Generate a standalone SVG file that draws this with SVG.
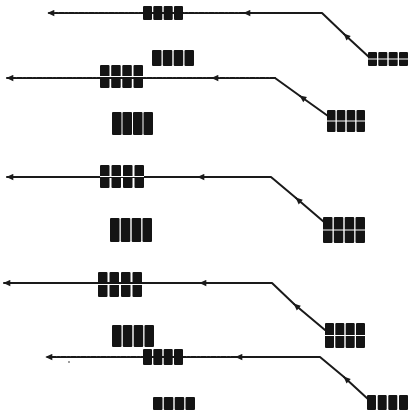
<svg xmlns="http://www.w3.org/2000/svg" width="408" height="413" viewBox="0 0 408 413">
<style>
.c{fill:#141414}
.d{stroke:#fff;stroke-width:1}
.ln{fill:none;stroke:#1a1a1a;stroke-width:2;stroke-linecap:round;stroke-linejoin:round}
.ds{stroke-dasharray:5 1.5 2 1.5}
</style>
<defs>
<marker id="ah" viewBox="0 0 10 10" refX="9" refY="5" markerWidth="8" markerHeight="7" orient="auto" markerUnits="userSpaceOnUse">
<path d="M0,0.5 L10,5 L0,9.5 Z" fill="#1a1a1a"/>
</marker>
</defs>
<rect width="408" height="413" fill="#fff"/>
<g id="connectors">
<!-- chain 1 -->
<path class="ln" d="M370,58 L344,34" marker-end="url(#ah)"/>
<path class="ln" d="M344,34 L322,13 L244,13" marker-end="url(#ah)"/>
<path class="ln ds" d="M244,13 L48,13" marker-end="url(#ah)"/>
<!-- chain 2 -->
<path class="ln" d="M328,116 L300,96" marker-end="url(#ah)"/>
<path class="ln" d="M300,96 L275,78" />
<path class="ln ds" d="M275,78 L212,78" marker-end="url(#ah)"/>
<path class="ln ds" d="M212,78 L7,78" marker-end="url(#ah)"/>
<!-- chain 3 -->
<path class="ln" d="M324,222 L296,198" marker-end="url(#ah)"/>
<path class="ln" d="M296,198 L271,177 L198,177" marker-end="url(#ah)"/>
<path class="ln" d="M198,177 L7,177" marker-end="url(#ah)"/>
<!-- chain 4 -->
<path class="ln" d="M325,330 L294,304" marker-end="url(#ah)"/>
<path class="ln" d="M294,304 L272,283 L200,283" marker-end="url(#ah)"/>
<path class="ln" d="M200,283 L4,283" marker-end="url(#ah)"/>
<!-- chain 5 -->
<path class="ln" d="M369,400 L344,377" marker-end="url(#ah)"/>
<path class="ln" d="M344,377 L320,357 L236,357" marker-end="url(#ah)"/>
<path class="ln ds" d="M236,357 L46,357" marker-end="url(#ah)"/>
<circle cx="69" cy="362" r="0.8" fill="#222"/>
</g>
<g id="label-1">
<rect class="c" x="143" y="6" width="9" height="14" rx="1"/><rect class="c" x="153.3" y="6" width="9" height="14" rx="1"/><rect class="c" x="163.7" y="6" width="9" height="14" rx="1"/><rect class="c" x="174" y="6" width="9" height="14" rx="1"/>
</g>
<g id="source-1">
<rect class="c" x="368" y="52" width="9" height="14" rx="1"/><rect class="c" x="378.3" y="52" width="9" height="14" rx="1"/><rect class="c" x="388.7" y="52" width="9" height="14" rx="1"/><rect class="c" x="399" y="52" width="9" height="14" rx="1"/>
<line class="d" x1="368" y1="59" x2="408" y2="59"/>
</g>
<g id="block-1">
<rect class="c" x="152" y="50" width="9.5" height="16" rx="1"/><rect class="c" x="162.8" y="50" width="9.5" height="16" rx="1"/><rect class="c" x="173.7" y="50" width="9.5" height="16" rx="1"/><rect class="c" x="184.5" y="50" width="9.5" height="16" rx="1"/>
</g>
<g id="label-2">
<rect class="c" x="100" y="65" width="9.5" height="23" rx="1"/><rect class="c" x="111.2" y="65" width="9.5" height="23" rx="1"/><rect class="c" x="122.3" y="65" width="9.5" height="23" rx="1"/><rect class="c" x="133.5" y="65" width="9.5" height="23" rx="1"/>
<line class="d" x1="100" y1="76.5" x2="143" y2="76.5"/>
</g>
<g id="source-2">
<rect class="c" x="327" y="110" width="8.5" height="22" rx="1"/><rect class="c" x="336.8" y="110" width="8.5" height="22" rx="1"/><rect class="c" x="346.7" y="110" width="8.5" height="22" rx="1"/><rect class="c" x="356.5" y="110" width="8.5" height="22" rx="1"/>
<line class="d" x1="327" y1="121" x2="365" y2="121"/>
</g>
<g id="block-2">
<rect class="c" x="112" y="112" width="9.5" height="23" rx="1"/><rect class="c" x="122.5" y="112" width="9.5" height="23" rx="1"/><rect class="c" x="133" y="112" width="9.5" height="23" rx="1"/><rect class="c" x="143.5" y="112" width="9.5" height="23" rx="1"/>
</g>
<g id="label-3">
<rect class="c" x="100" y="165" width="9.5" height="23" rx="1"/><rect class="c" x="111.5" y="165" width="9.5" height="23" rx="1"/><rect class="c" x="123" y="165" width="9.5" height="23" rx="1"/><rect class="c" x="134.5" y="165" width="9.5" height="23" rx="1"/>
<line class="d" x1="100" y1="176.5" x2="144" y2="176.5"/>
</g>
<g id="source-3">
<rect class="c" x="323" y="217" width="9.5" height="26" rx="1"/><rect class="c" x="333.8" y="217" width="9.5" height="26" rx="1"/><rect class="c" x="344.7" y="217" width="9.5" height="26" rx="1"/><rect class="c" x="355.5" y="217" width="9.5" height="26" rx="1"/>
<line class="d" x1="323" y1="230" x2="365" y2="230"/>
</g>
<g id="block-3">
<rect class="c" x="110" y="218" width="9.5" height="24" rx="1"/><rect class="c" x="120.8" y="218" width="9.5" height="24" rx="1"/><rect class="c" x="131.7" y="218" width="9.5" height="24" rx="1"/><rect class="c" x="142.5" y="218" width="9.5" height="24" rx="1"/>
</g>
<g id="label-4">
<rect class="c" x="98" y="272" width="9.5" height="25" rx="1"/><rect class="c" x="109.5" y="272" width="9.5" height="25" rx="1"/><rect class="c" x="121" y="272" width="9.5" height="25" rx="1"/><rect class="c" x="132.5" y="272" width="9.5" height="25" rx="1"/>
<line class="d" x1="98" y1="284.5" x2="142" y2="284.5"/>
</g>
<g id="source-4">
<rect class="c" x="325" y="323" width="9" height="25" rx="1"/><rect class="c" x="335.3" y="323" width="9" height="25" rx="1"/><rect class="c" x="345.7" y="323" width="9" height="25" rx="1"/><rect class="c" x="356" y="323" width="9" height="25" rx="1"/>
<line class="d" x1="325" y1="335.5" x2="365" y2="335.5"/>
</g>
<g id="block-4">
<rect class="c" x="112" y="325" width="9.5" height="22" rx="1"/><rect class="c" x="122.8" y="325" width="9.5" height="22" rx="1"/><rect class="c" x="133.7" y="325" width="9.5" height="22" rx="1"/><rect class="c" x="144.5" y="325" width="9.5" height="22" rx="1"/>
</g>
<g id="label-5">
<rect class="c" x="143" y="349" width="9" height="16" rx="1"/><rect class="c" x="153.3" y="349" width="9" height="16" rx="1"/><rect class="c" x="163.7" y="349" width="9" height="16" rx="1"/><rect class="c" x="174" y="349" width="9" height="16" rx="1"/>
</g>
<g id="source-5">
<rect class="c" x="367" y="395" width="9" height="15" rx="1"/><rect class="c" x="377.7" y="395" width="9" height="15" rx="1"/><rect class="c" x="388.3" y="395" width="9" height="15" rx="1"/><rect class="c" x="399" y="395" width="9" height="15" rx="1"/>
</g>
<g id="block-5">
<rect class="c" x="153" y="397" width="9.5" height="13" rx="1"/><rect class="c" x="163.8" y="397" width="9.5" height="13" rx="1"/><rect class="c" x="174.7" y="397" width="9.5" height="13" rx="1"/><rect class="c" x="185.5" y="397" width="9.5" height="13" rx="1"/>
</g>
</svg>
